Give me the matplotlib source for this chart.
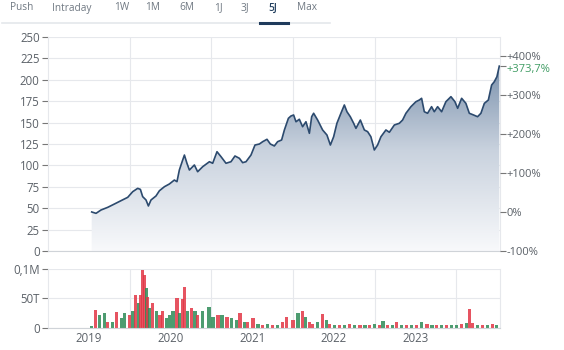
import numpy as np
import matplotlib
matplotlib.use("Agg")
import matplotlib.pyplot as plt
import matplotlib.transforms as mtransforms
from matplotlib.colors import LinearSegmentedColormap
from matplotlib.lines import Line2D

plt.rcParams['font.family'] = ['Open Sans', 'DejaVu Sans']

# %% data: closing prices (decimal years) and volume
price_t = [2019.535, 2019.588, 2019.649, 2019.731, 2019.813, 2019.894, 2019.976,
           2020.037, 2020.098, 2020.131, 2020.159, 2020.200, 2020.229, 2020.261,
           2020.322, 2020.364, 2020.425, 2020.486, 2020.547, 2020.579, 2020.608,
           2020.649, 2020.670, 2020.701, 2020.731, 2020.792, 2020.832, 2020.894,
           2020.976, 2021.016, 2021.069, 2021.118, 2021.179, 2021.240, 2021.289,
           2021.343, 2021.383, 2021.424, 2021.485, 2021.534, 2021.588, 2021.628,
           2021.681, 2021.722, 2021.771, 2021.811, 2021.860, 2021.894, 2021.943,
           2021.974, 2022.007, 2022.036, 2022.077, 2022.117, 2022.158, 2022.200,
           2022.228, 2022.252, 2022.301, 2022.362, 2022.415, 2022.457, 2022.497,
           2022.537, 2022.586, 2022.628, 2022.660, 2022.701, 2022.742, 2022.770,
           2022.824, 2022.873, 2022.913, 2022.953, 2022.995, 2023.035, 2023.076,
           2023.137, 2023.179, 2023.240, 2023.301, 2023.341, 2023.382, 2023.443,
           2023.504, 2023.546, 2023.574, 2023.607, 2023.647, 2023.696, 2023.729,
           2023.770, 2023.819, 2023.871, 2023.933, 2023.982, 2024.015, 2024.064,
           2024.116, 2024.158, 2024.210, 2024.259, 2024.300, 2024.342, 2024.391,
           2024.431, 2024.464, 2024.496, 2024.525]
price = [45.6, 44.0, 47.9, 51.0, 54.9, 58.8, 62.7,
         69.3, 73.2, 72.0, 63.5, 59.6, 52.6, 59.6,
         64.3, 70.4, 75.1, 78.3, 82.9, 81.0, 94.6,
         106.3, 112.1, 102.5, 94.6, 100.5, 92.6, 98.5,
         104.3, 102.5, 116.0, 110.2, 102.5, 104.3, 111.0,
         108.3, 103.2, 104.3, 112.1, 123.8, 125.0, 127.7,
         130.5, 125.0, 122.7, 127.7, 129.7, 141.4, 155.0,
         157.7, 158.9, 151.0, 153.9, 145.2, 151.0, 137.5,
         156.9, 160.9, 153.0, 141.4, 135.5, 123.8, 133.5,
         149.2, 160.9, 170.6, 162.7, 156.9, 149.2, 143.3,
         153.0, 141.4, 139.4, 133.5, 118.0, 123.8, 133.5,
         141.4, 138.7, 147.2, 149.2, 153.0, 160.9, 168.6,
         174.4, 176.4, 178.4, 162.7, 160.9, 168.6, 162.7,
         168.6, 162.7, 174.4, 180.3, 174.4, 166.7, 178.4,
         172.5, 160.9, 158.9, 156.9, 160.9, 172.5, 176.4,
         193.9, 197.8, 203.6, 216.0]

vol_t = [2019.53, 2019.58, 2019.63, 2019.69, 2019.73, 2019.79, 2019.84, 2019.90, 2019.94,
         2020.00, 2020.04, 2020.07, 2020.11, 2020.13, 2020.16, 2020.18, 2020.21, 2020.22,
         2020.24, 2020.28, 2020.33, 2020.37, 2020.40, 2020.45, 2020.49, 2020.53, 2020.58,
         2020.61, 2020.65, 2020.67, 2020.71, 2020.76, 2020.80, 2020.83, 2020.89, 2020.97,
         2021.02, 2021.08, 2021.13, 2021.19, 2021.25, 2021.31, 2021.35, 2021.41, 2021.44,
         2021.51, 2021.57, 2021.63, 2021.69, 2021.75, 2021.81, 2021.87, 2021.92,
         2022.00, 2022.06, 2022.12, 2022.15, 2022.20, 2022.24, 2022.30, 2022.36, 2022.41,
         2022.45, 2022.51, 2022.57, 2022.63, 2022.69, 2022.75, 2022.82, 2022.88, 2022.94,
         2023.00, 2023.06, 2023.10, 2023.16, 2023.22, 2023.27, 2023.33, 2023.39, 2023.45,
         2023.51, 2023.57, 2023.64, 2023.70, 2023.76, 2023.82, 2023.88, 2023.94,
         2024.00, 2024.06, 2024.12, 2024.16, 2024.20, 2024.26, 2024.32, 2024.38, 2024.44, 2024.49]
volume_k = [3, 30, 22, 25, 10, 10, 26, 16, 25,
            22, 28, 56, 42, 56, 98, 90, 67, 53, 33, 42, 28, 22, 28, 16, 22, 28, 51,
            25, 49, 70, 28, 33, 28, 22, 28, 36,
            19, 22, 22, 19, 16, 13, 25, 10, 10, 16, 7, 5, 6, 5, 5, 10, 19,
            13, 25, 28, 19, 10, 7, 10, 23, 13, 7, 4, 5, 4, 6, 4, 4, 5, 4,
            6, 5, 12, 5, 4, 10, 5, 4, 4, 5, 10, 7, 4, 4, 4, 5, 4,
            5, 6, 8, 32, 8, 4, 5, 4, 7, 4]
vol_dir = ("grggrgrgg"
           "rgrgrrrgrgrgrrgggrgrrgrgrg"
           "g"
           "grgrggrgrrgrgrgrr"
           "rgrgrrgrgrgrgrgrgr"
           "grgrgrgrgrgrgrgrg"
           "grgrrgrgrg")

year_labels = ['2019', '2020', '2021', '2022', '2023']
tabs = ['Push', 'Intraday', '1W', '1M', '6M', '1J', '3J', '5J', 'Max']
tab_x = [22, 72, 122, 153, 187, 218, 245, 273, 307]

# %%
W, H = 564, 350
fig = plt.figure(figsize=(W / 100, H / 100), dpi=100)

def px(x0, y0, x1, y1):
    return [x0 / W, 1 - y1 / H, (x1 - x0) / W, (y1 - y0) / H]

grid_c = '#e6e8ec'
label_c = '#5b6168'
x_lo, x_hi = 2019.0, 2024.53

# tab bar
for name, x in zip(tabs, tab_x):
    active = name == '5J'
    fig.text(x / W, 1 - 8 / H, name, ha='center', va='center', fontsize=7.3,
             color='#23405f' if active else '#6f7882',
             fontweight='semibold' if active else 'normal')
fig.add_artist(Line2D([2 / W, 330 / W], [1 - 23 / H] * 2, color='#e4e7eb', lw=1.2))
fig.add_artist(Line2D([260 / W, 288 / W], [1 - 23 / H] * 2, color='#1f3b5c', lw=2.2))

# price panel
ax = fig.add_axes(px(48, 37, 499.7, 251))
ax.set_xlim(x_lo, x_hi)
ax.set_ylim(0, 250)
ax.set_yticks(np.arange(0, 251, 25))
ax.set_xticks(np.arange(2020, 2025))
ax.tick_params(axis='x', length=0, labelbottom=False)
ax.tick_params(axis='y', length=4, width=0.8, color='#777', pad=2,
               labelsize=8.3, labelcolor=label_c)
ax.grid(True, color=grid_c, lw=0.8)
ax.set_axisbelow(True)
ax.spines['top'].set_visible(False)
for s in ['left', 'right']:
    ax.spines[s].set_color(grid_c)
ax.spines['bottom'].set_color('#cfd3d8')

cmap = LinearSegmentedColormap.from_list('fade', ['#f8f9fb', '#c9d2de', '#6d86a4'])
grad = np.linspace(0, 1, 256).reshape(-1, 1)
im = ax.imshow(grad, extent=[x_lo, x_hi, 0, 235], origin='lower', aspect='auto',
               cmap=cmap, zorder=1)
area = ax.fill_between(price_t, price, 0, facecolor='none', edgecolor='none')
im.set_clip_path(area.get_paths()[0], transform=ax.transData)
ax.plot(price_t, price, color='#2c4a6e', lw=1.2, zorder=3)
ax.set_ylim(0, 250)

# right axis: performance since start
base = price[0]
last_pct = (price[-1] / base - 1) * 100
ax2 = ax.twinx()
ax2.set_ylim(-100, (250 / base - 1) * 100)
ax2.set_yticks([-100, 0, 100, 200, 300, 400])
ax2.set_yticklabels(['-100%', '0%', '+100%', '+200%', '+300%', '+400%'])
ax2.set_yticks([last_pct], minor=True)
ax2.set_yticklabels([('+%.1f%%' % last_pct).replace('.', ',')], minor=True)
ax2.tick_params(axis='y', which='major', length=4, width=0.8, color='#777', pad=1,
                labelsize=8, labelcolor=label_c)
ax2.tick_params(axis='y', which='minor', length=4, width=0.8, color='#777', pad=1,
                labelsize=8, labelcolor='#3f9c63')
# keep the current-value label clear of the +400% label
shift = mtransforms.ScaledTranslation(0, -1.5 / 72, fig.dpi_scale_trans)
for lbl in ax2.get_yticklabels(minor=True):
    lbl.set_transform(lbl.get_transform() + shift)
for s in ax2.spines.values():
    s.set_visible(False)

# volume panel
axv = fig.add_axes(px(48, 269, 499.7, 327.7))
axv.set_xlim(x_lo, x_hi)
axv.set_ylim(0, 100000)
colors = ['#2e8b57' if d == 'g' else '#e23645' for d in vol_dir]
axv.bar(vol_t, np.array(volume_k) * 1000, width=0.04, color=colors, alpha=0.85,
        linewidth=0, zorder=2)
axv.set_yticks([0, 50000, 100000])
axv.set_yticklabels(['0', '50T', '0,1M'])
axv.set_xticks(np.arange(2020, 2025))
axv.set_xticks(np.arange(2019.5, 2024), minor=True)
axv.set_xticklabels(year_labels, minor=True)
axv.tick_params(axis='x', which='both', length=0, labelbottom=False)
axv.tick_params(axis='x', which='minor', labelbottom=True, labelsize=8.3,
                labelcolor=label_c, pad=3)
axv.tick_params(axis='y', length=4, width=0.8, color='#777', pad=2,
                labelsize=8.3, labelcolor=label_c)
axv.grid(True, color=grid_c, lw=0.8)
axv.set_axisbelow(True)
axv.spines['top'].set_visible(False)
for s in ['left', 'right']:
    axv.spines[s].set_color(grid_c)
axv.spines['bottom'].set_color('#cfd3d8')

fig.savefig('out.png', dpi=100)
